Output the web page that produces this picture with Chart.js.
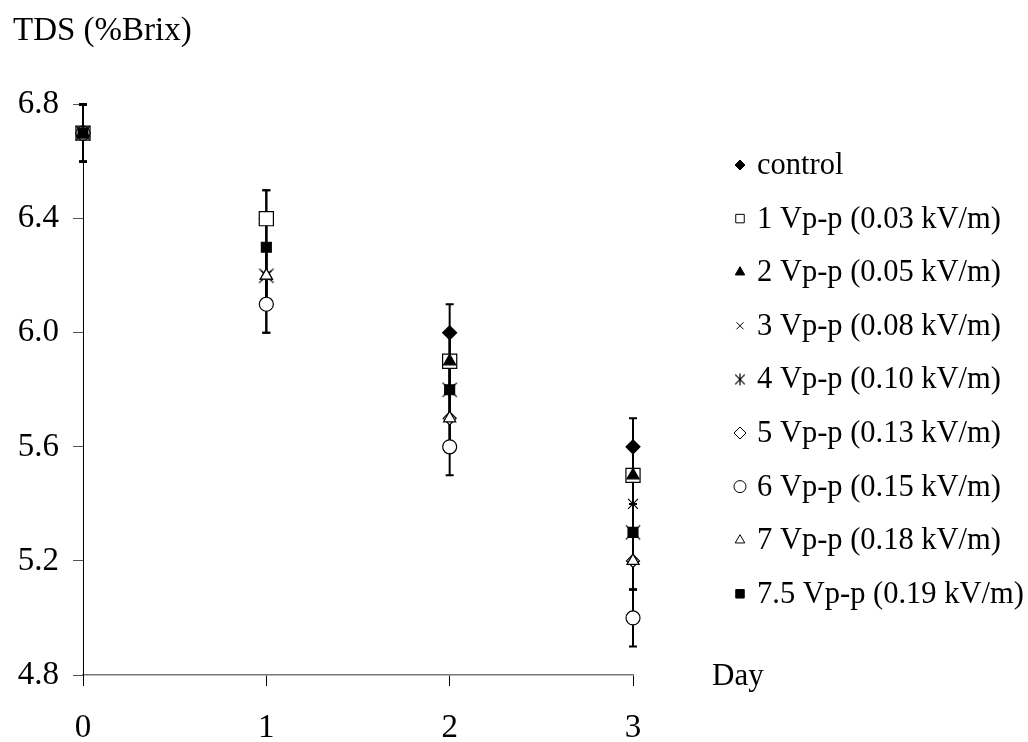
<!DOCTYPE html>
<html>
<head>
<meta charset="utf-8">
<script src="https://cdn.jsdelivr.net/npm/chart.js@4.4.0/dist/chart.umd.min.js"></script>
<style>
  html, body { margin: 0; padding: 0; background: #fff; }
</style>
</head>
<body>
<canvas id="grafica" width="1028" height="742"></canvas>
<script>
// datos
const dias = [0, 1, 2, 3];
const nombres = [
    'control',
    '1 Vp-p (0.03 kV/m)',
    '2 Vp-p (0.05 kV/m)',
    '3 Vp-p (0.08 kV/m)',
    '4 Vp-p (0.10 kV/m)',
    '5 Vp-p (0.13 kV/m)',
    '6 Vp-p (0.15 kV/m)',
    '7 Vp-p (0.18 kV/m)',
    '7.5 Vp-p (0.19 kV/m)'
];
const control = [6.7, 6.4, 6.0, 5.6];
const v1 = [6.7, 6.4, 5.9, 5.5];
const v2 = [6.7, 6.2, 5.9, 5.5];
const v3 = [6.7, 6.2, 5.8, 5.4];
const v4 = [6.7, 6.2, 5.8, 5.3];
const v5 = [6.7, 6.1, 5.7, 5.2];
const v6 = [6.7, 6.1, 5.6, 5.0];
const v7 = [6.7, 6.2, 5.7, 5.2];
const v75 = [6.7, 6.3, 5.8, 5.3];
const desviacion = [0.1, 0.1, 0.1, 0.1];
const yMin = 4.8, yMax = 6.8, yPaso = 0.4;

const fuente = "'Liberation Serif', 'Times New Roman', serif";

// asterisco: X con trazo vertical
const asterisco = (r) => {
    const c = document.createElement('canvas');
    c.width = c.height = Math.ceil(r * 2 + 2);
    const g = c.getContext('2d');
    const m = c.width / 2;
    g.strokeStyle = '#000';
    g.lineWidth = 1.2;
    g.beginPath();
    g.moveTo(m - r * 0.8, m - r * 0.8); g.lineTo(m + r * 0.8, m + r * 0.8);
    g.moveTo(m + r * 0.8, m - r * 0.8); g.lineTo(m - r * 0.8, m + r * 0.8);
    g.moveTo(m, m - r); g.lineTo(m, m + r);
    g.stroke();
    return c;
};

const estilos = [
    { pointStyle: 'rectRot', radius: 7, fill: '#000' },
    { pointStyle: 'rect', radius: 10, fill: '#fff' },
    { pointStyle: 'triangle', radius: 7, fill: '#000' },
    { pointStyle: 'crossRot', radius: 7, fill: '#000' },
    { pointStyle: asterisco(9), radius: 9, fill: '#000', legenda: asterisco(6) },
    { pointStyle: 'rectRot', radius: 6.5, fill: '#fff' },
    { pointStyle: 'circle', radius: 7, fill: '#fff' },
    { pointStyle: 'triangle', radius: 7, fill: '#fff' },
    { pointStyle: 'rect', radius: 7, fill: '#000' }
];
const tamLeyenda = [5, 6, 5.5, 5, 6, 6, 6, 5.5, 6];

const series = [control, v1, v2, v3, v4, v5, v6, v7, v75];

// cada serie se dibuja encima de la anterior
const datasets = series.map((valores, i) => ({
    label: nombres[i],
    data: dias.map((d, j) => ({ x: d, y: valores[j] })),
    order: series.length - i,
    clip: false,
    showLine: false,
    pointStyle: estilos[i].pointStyle,
    pointRadius: estilos[i].radius,
    pointHoverRadius: estilos[i].radius,
    pointBackgroundColor: estilos[i].fill,
    pointBorderColor: '#000',
    pointBorderWidth: 1.2
}));

// barras de error, debajo de los marcadores
const barrasError = {
    id: 'barrasError',
    beforeDatasetsDraw(chart) {
        const { ctx, scales: { x, y } } = chart;
        ctx.save();
        ctx.strokeStyle = '#000';
        ctx.lineWidth = 2;
        series.forEach(valores => {
            valores.forEach((v, j) => {
                const px = x.getPixelForValue(dias[j]);
                const top = y.getPixelForValue(v + desviacion[j]);
                const bot = y.getPixelForValue(v - desviacion[j]);
                ctx.beginPath();
                ctx.moveTo(px, top); ctx.lineTo(px, bot);
                ctx.moveTo(px - 4, top); ctx.lineTo(px + 4, top);
                ctx.moveTo(px - 4, bot); ctx.lineTo(px + 4, bot);
                ctx.stroke();
            });
        });
        ctx.restore();
    }
};

// leyenda y rótulo "Day"
const leyenda = {
    id: 'leyenda',
    afterDraw(chart) {
        const { ctx, chartArea } = chart;
        ctx.save();
        ctx.font = '31px ' + fuente;
        ctx.fillStyle = '#000';
        ctx.textBaseline = 'middle';
        ctx.textAlign = 'left';
        ctx.fillText('Day', 712, chartArea.bottom + 2);

        ctx.font = '30.5px ' + fuente;
        const x0 = 740, y0 = 165, paso = 53.6;
        nombres.forEach((n, i) => {
            const yy = y0 + i * paso;
            const e = estilos[i];
            ctx.fillStyle = e.fill;
            ctx.strokeStyle = '#000';
            ctx.lineWidth = 1;
            if (e.legenda) {
                ctx.drawImage(e.legenda, x0 - e.legenda.width / 2, yy - e.legenda.height / 2);
            } else {
                Chart.helpers.drawPoint(ctx, {
                    pointStyle: e.pointStyle, radius: tamLeyenda[i], rotation: 0, borderWidth: 1
                }, x0, yy);
            }
            ctx.fillStyle = '#000';
            ctx.fillText(n, 757, yy + 1);
        });
        ctx.restore();
    }
};

new Chart(document.getElementById('grafica'), {
    type: 'scatter',
    data: { datasets },
    plugins: [barrasError, leyenda],
    options: {
        responsive: false,
        animation: false,
        layout: { padding: { left: 13, right: 395, top: 0, bottom: 0 } },
        plugins: {
            legend: { display: false },
            tooltip: { enabled: false },
            title: {
                display: true,
                text: 'TDS (%Brix)',
                align: 'start',
                color: '#000',
                font: { family: fuente, size: 33, weight: 'normal' },
                padding: { top: 12, bottom: 53 }
            }
        },
        scales: {
            x: {
                type: 'linear',
                min: 0, max: 3,
                afterFit: s => { s.height = 67; },
                ticks: {
                    stepSize: 1,
                    color: '#000',
                    padding: 23,
                    font: { family: fuente, size: 33 }
                },
                grid: { drawOnChartArea: false, drawTicks: true, tickLength: 11, color: '#000' },
                border: { display: true, color: '#777', width: 1.5 }
            },
            y: {
                min: yMin, max: yMax,
                afterFit: s => { s.width = 70; },
                ticks: {
                    stepSize: yPaso,
                    color: '#000',
                    padding: 14,
                    font: { family: fuente, size: 33 },
                    callback: v => v.toFixed(1)
                },
                grid: { drawOnChartArea: false, drawTicks: true, tickLength: 10, color: '#555' },
                border: { display: true, color: '#000', width: 1 }
            }
        }
    }
});
</script>
</body>
</html>
